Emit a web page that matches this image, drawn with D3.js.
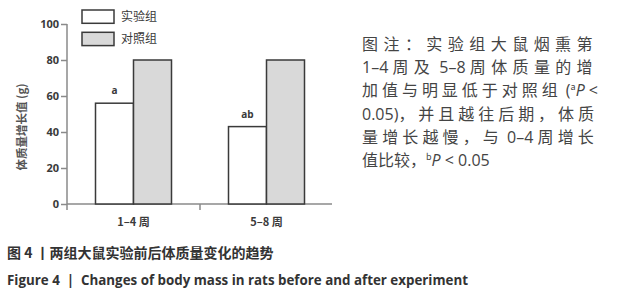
<!DOCTYPE html>
<html>
<head>
<meta charset="utf-8">
<script src="https://cdn.jsdelivr.net/npm/d3@7"></script>
<style>
  body { margin: 0; background: #fff; }
  svg { display: block; }
  text { font-family: "Noto Sans CJK SC", "Open Sans", sans-serif; white-space: pre; }
</style>
</head>
<body>
<svg id="chart" width="618" height="300"></svg>
<script>
// data
const groups = ["1\u20134 周", "5\u20138 周"];
const series = ["实验组", "对照组"];
const expValues = [56, 43];
const ctrlValues = [80, 80];
const sigMarks = ["a", "ab"];
const yTicks = [0, 20, 40, 60, 80, 100];
const yLabel = "体质量增长值 (g)";

const svg = d3.select("#chart");
const axisColor = "#8a8a8a";
const inkColor = "#3a3a3a";
const fills = ["#ffffff", "#d9d9d9"];

// scales
let y = d3.scaleLinear().domain([0, 100]).range([204, 24]);
let x = d3.scaleBand().domain(groups).range([67, 333]).padding(0);
let xSub = d3.scaleBand().domain(series).range([0, x.bandwidth()]).paddingOuter(0.75).paddingInner(0);

// y axis
let yAxis = svg.append("g").attr("transform", "translate(67,0)")
    .call(d3.axisLeft(y).tickValues(yTicks).tickSize(6).tickSizeOuter(0));
yAxis.select(".domain").attr("stroke", axisColor).attr("stroke-width", 1.5)
    .attr("d", "M0," + y(100) + "V" + (y(0) + 6));
yAxis.selectAll(".tick line").attr("stroke", axisColor).attr("stroke-width", 1.5);
yAxis.selectAll(".tick text").attr("fill", inkColor).attr("font-size", 11)
    .attr("font-weight", "bold").attr("x", -8).style("font-family", "Open Sans, sans-serif");

// x axis
let xAxis = svg.append("g").attr("transform", "translate(0," + y(0) + ")");
xAxis.append("line").attr("x1", 67).attr("x2", 332).attr("y1", 0).attr("y2", 0)
    .attr("stroke", axisColor).attr("stroke-width", 1.5);
xAxis.selectAll(".sep").data(groups.slice(1)).enter().append("line")
    .attr("x1", d => x(d)).attr("x2", d => x(d)).attr("y1", 0).attr("y2", 6)
    .attr("stroke", axisColor).attr("stroke-width", 1.5);
xAxis.selectAll(".lab").data(groups).enter().append("text")
    .attr("x", d => x(d) + x.bandwidth() / 2).attr("y", 22)
    .attr("text-anchor", "middle").attr("font-size", 11).attr("font-weight", "bold")
    .attr("fill", inkColor).text(d => d);

// y label
svg.append("text").attr("transform", "translate(26,127) rotate(-90)")
    .attr("text-anchor", "middle").attr("font-size", 11.5).attr("font-weight", "bold")
    .attr("fill", "#555").text(yLabel);

// bars
let rows = groups.map((g, i) => ({ g: g, vals: [expValues[i], ctrlValues[i]], mark: sigMarks[i] }));
let grp = svg.selectAll(".grp").data(rows).enter().append("g")
    .attr("transform", d => "translate(" + x(d.g) + ",0)");
grp.selectAll("rect").data(d => d.vals.map((v, j) => ({ s: series[j], v: v, j: j })))
    .enter().append("rect")
    .attr("x", d => xSub(d.s)).attr("width", xSub.bandwidth())
    .attr("y", d => y(d.v)).attr("height", d => y(0) - y(d.v))
    .attr("fill", d => fills[d.j]).attr("stroke", inkColor).attr("stroke-width", 1.5);
grp.append("text")
    .attr("x", xSub(series[0]) + xSub.bandwidth() / 2)
    .attr("y", d => y(d.vals[0]) - 9)
    .attr("text-anchor", "middle").attr("font-size", 10).attr("font-weight", "bold")
    .attr("fill", inkColor).style("font-family", "Open Sans, sans-serif")
    .text(d => d.mark);

// legend
let leg = svg.selectAll(".leg").data(series).enter().append("g")
    .attr("transform", (d, i) => "translate(82," + (10 + i * 22.3) + ")");
leg.append("rect").attr("width", 32).attr("height", 13.3)
    .attr("fill", (d, i) => fills[i]).attr("stroke", inkColor).attr("stroke-width", 1.5);
leg.append("text").attr("x", 39).attr("y", 11).attr("font-size", 12)
    .attr("fill", inkColor).text(d => d);

// note on the right, justified by spreading only the CJK characters
const noteLines = [
  [["图注：实验组大鼠烟熏第"]],
  [["1\u20134 周及 5\u20138 周体质量的增"]],
  [["加值与明显低于对照组 ("], ["a", "sup"], ["P", "it"], [" <"]],
  [["0.05)，并且越往后期，体质"]],
  [["量增长越慢，与 0\u20134 周增长"]],
  [["值比较，"], ["b", "sup"], ["P", "it"], [" < 0.05"]]
];
const isCJK = c => /[\u3000-\u9fff\uff00-\uffef]/.test(c);
let note = svg.append("g").attr("fill", "#444");
noteLines.forEach((parts, i) => {
  let t = note.append("text").attr("x", 362).attr("y", 50 + i * 23.2).attr("font-size", 16);
  let cjkSpans = [];
  parts.forEach(p => {
    if (p[1]) {
      let s = t.append("tspan").text(p[0]);
      if (p[1] === "sup") s.attr("font-size", 9).attr("baseline-shift", "super");
      if (p[1] === "it") s.attr("font-style", "italic").style("font-family", "Open Sans, sans-serif");
      return;
    }
    // split into CJK / non-CJK runs
    let runs = p[0].match(/[\u3000-\u9fff\uff00-\uffef]+|[^\u3000-\u9fff\uff00-\uffef]+/g);
    runs.forEach(r => {
      let s = t.append("tspan").text(r);
      if (isCJK(r[0])) cjkSpans.push(s);
      else s.style("font-family", "Open Sans, sans-serif");
    });
  });
  if (i < noteLines.length - 1) {
    let extra = 236 - t.node().getComputedTextLength();
    let n = d3.sum(cjkSpans, s => s.text().length);
    if (extra > 0 && n > 0) cjkSpans.forEach(s => s.attr("letter-spacing", extra / n));
  }
});

// captions
svg.append("text").attr("x", 7).attr("y", 258).attr("font-size", 14).attr("font-weight", "bold")
    .attr("fill", "#333").text("图 4 丨两组大鼠实验前后体质量变化的趋势");
svg.append("text").attr("x", 7).attr("y", 285).attr("font-size", 14).attr("font-weight", "bold")
    .attr("fill", "#333").attr("textLength", 461).attr("lengthAdjust", "spacingAndGlyphs")
    .style("font-family", "Open Sans, sans-serif")
    .text("Figure 4  |  Changes of body mass in rats before and after experiment");
</script>
</body>
</html>
